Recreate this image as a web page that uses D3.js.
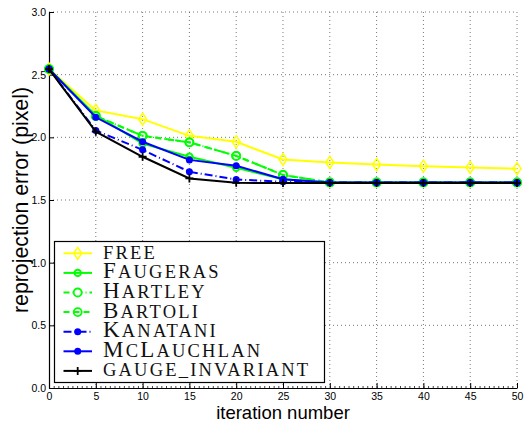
<!DOCTYPE html>
<head>
    <meta charset="utf-8">
    <style>
        body { margin: 0; background: #fff; }
        .tick text { font-family: "Liberation Sans", Arial, sans-serif; font-size: 10.5px; fill: #000; }
        .grid line { stroke: #555; stroke-dasharray: 1,3; stroke-width: 0.8; }
        .legend text { font-family: "Liberation Serif", "Times New Roman", serif; letter-spacing: 2.2px; fill: #111; }
    </style>
    <script src="https://cdn.jsdelivr.net/npm/d3@7"></script>
</head>
<body>
<svg width="531" height="423"></svg>
<script>

var iterations = [0, 5, 10, 15, 20, 25, 30, 35, 40, 45, 50];
var xTicks = [0, 5, 10, 15, 20, 25, 30, 35, 40, 45, 50];
var yTicks = [0, 0.5, 1, 1.5, 2, 2.5, 3];

var freeErr      = [2.545, 2.215, 2.145, 2.012, 1.964, 1.823, 1.800, 1.783, 1.770, 1.760, 1.750];
var faugerasErr  = [2.545, 2.177, 1.950, 1.845, 1.757, 1.666, 1.640, 1.640, 1.640, 1.640, 1.640];
var hartleyErr   = [2.545, 2.170, 2.012, 1.960, 1.852, 1.700, 1.640, 1.640, 1.640, 1.640, 1.640];
var bartoliErr   = [2.545, 2.170, 2.012, 1.960, 1.852, 1.700, 1.640, 1.640, 1.640, 1.640, 1.640];
var kanataniErr  = [2.545, 2.055, 1.900, 1.725, 1.664, 1.645, 1.640, 1.640, 1.640, 1.640, 1.640];
var mclauchErr   = [2.545, 2.160, 1.965, 1.820, 1.773, 1.666, 1.640, 1.640, 1.640, 1.640, 1.640];
var gaugeErr     = [2.545, 2.045, 1.845, 1.672, 1.637, 1.635, 1.635, 1.635, 1.635, 1.635, 1.635];

// legend names in small caps: [text, big?] pieces
var seriesNames = [
  [["FREE", 0]],
  [["F", 1], ["AUGERAS", 0]],
  [["H", 1], ["ARTLEY", 0]],
  [["B", 1], ["ARTOLI", 0]],
  [["K", 1], ["ANATANI", 0]],
  [["M", 1], ["C", 0], ["L", 1], ["AUCHLAN", 0]],
  [["GAUGE_INVARIANT", 0]]
];

var series = [
  { name: seriesNames[0], values: freeErr,     color: "#ffff00", dash: null,       marker: "diamond" },
  { name: seriesNames[1], values: faugerasErr, color: "#00ff00", dash: null,       marker: "circle" },
  { name: seriesNames[2], values: hartleyErr,  color: "#00ff00", dash: "6,3,1,3",  marker: "ring" },
  { name: seriesNames[3], values: bartoliErr,  color: "#00ff00", dash: "6,4",      marker: "dotring" },
  { name: seriesNames[4], values: kanataniErr, color: "#0000ff", dash: "8,3,1,3",  marker: "dot" },
  { name: seriesNames[5], values: mclauchErr,  color: "#0000ff", dash: null,       marker: "dot" },
  { name: seriesNames[6], values: gaugeErr,    color: "#000000", dash: null,       marker: "plus" }
];

var svg = d3.select("svg"),
    margin = {left: 49, right: 14, top: 12, bottom: 35},
    width = +svg.attr("width") - margin.left - margin.right,
    height = +svg.attr("height") - margin.top - margin.bottom;

var x = d3.scaleLinear().domain([0, 50]).range([0, width]);
var y = d3.scaleLinear().domain([0, 3]).range([height, 0]);

var g = svg.append("g").attr("transform", "translate(" + margin.left + "," + margin.top + ")");

// dotted grid
g.append("g").attr("class", "grid")
  .selectAll("line").data(xTicks.slice(1)).enter().append("line")
    .attr("x1", function(d) { return x(d); }).attr("x2", function(d) { return x(d); })
    .attr("y1", 0).attr("y2", height);
g.append("g").attr("class", "grid")
  .selectAll("line").data(yTicks.slice(1)).enter().append("line")
    .attr("y1", function(d) { return y(d); }).attr("y2", function(d) { return y(d); })
    .attr("x1", 0).attr("x2", width);

// minor ticks
g.append("g").call(d3.axisBottom(x).ticks(100).tickSize(-2).tickFormat(""))
  .attr("transform", "translate(0," + height + ")")
  .call(function(s) { s.select(".domain").remove(); s.selectAll("line").attr("stroke", "#444"); });

var xAxis = g.append("g")
  .attr("transform", "translate(0," + height + ")")
  .call(d3.axisBottom(x).tickValues(xTicks).tickSize(-5).tickSizeOuter(0).tickPadding(4.5));
var yAxis = g.append("g")
  .call(d3.axisLeft(y).tickValues(yTicks).tickSize(-5).tickSizeOuter(0).tickPadding(3));
[xAxis, yAxis].forEach(function(a) {
  a.select(".domain").attr("stroke", "#000").attr("stroke-width", 1.2);
  a.selectAll(".tick line").attr("stroke", "#000");
});

svg.append("text")
  .attr("x", margin.left + width / 2).attr("y", 419.3)
  .attr("text-anchor", "middle")
  .style("font-family", "Liberation Sans, Arial, sans-serif").style("font-size", "18.5px")
  .text("iteration number");
svg.append("text")
  .attr("transform", "translate(28," + (margin.top + height / 2) + ") rotate(-90)")
  .attr("text-anchor", "middle")
  .style("font-family", "Liberation Sans, Arial, sans-serif").style("font-size", "21.3px")
  .text("reprojection error (pixel)");

var line = d3.line()
  .x(function(d, i) { return x(iterations[i]); })
  .y(function(d) { return y(d); });

function drawMarker(sel, s, px, py) {
  if (s.marker === "diamond") {
    sel.append("path").attr("d", "M" + px + "," + (py - 6) + "L" + (px + 4) + "," + py + "L" + px + "," + (py + 6) + "L" + (px - 4) + "," + py + "Z")
      .attr("fill", "none").attr("stroke", s.color).attr("stroke-width", 1.5);
  } else if (s.marker === "circle") {
    sel.append("circle").attr("cx", px).attr("cy", py).attr("r", 3.2)
      .attr("fill", "none").attr("stroke", s.color).attr("stroke-width", 2);
  } else if (s.marker === "ring") {
    sel.append("circle").attr("cx", px).attr("cy", py).attr("r", 4)
      .attr("fill", "#fff").attr("stroke", s.color).attr("stroke-width", 1.8);
  } else if (s.marker === "dotring") {
    sel.append("circle").attr("cx", px).attr("cy", py).attr("r", 4)
      .attr("fill", "none").attr("stroke", s.color).attr("stroke-width", 1.8);
    sel.append("circle").attr("cx", px).attr("cy", py).attr("r", 1.2).attr("fill", s.color);
  } else if (s.marker === "dot") {
    sel.append("circle").attr("cx", px).attr("cy", py).attr("r", 3.5).attr("fill", s.color);
  } else if (s.marker === "plus") {
    sel.append("path").attr("d", "M" + (px - 4) + "," + py + "H" + (px + 4) + "M" + px + "," + (py - 4) + "V" + (py + 4))
      .attr("stroke", s.color).attr("stroke-width", 1.8);
  }
}

series.forEach(function(s) {
  var sg = g.append("g");
  sg.append("path").datum(s.values)
    .attr("d", line)
    .attr("fill", "none")
    .attr("stroke", s.color)
    .attr("stroke-width", 2)
    .attr("stroke-dasharray", s.dash);
  s.values.forEach(function(v, i) { drawMarker(sg, s, x(iterations[i]), y(v)); });
});

// legend
var lg = svg.append("g").attr("class", "legend");
lg.append("rect").attr("x", 54.5).attr("y", 241.5).attr("width", 270).attr("height", 141)
  .attr("fill", "#fff").attr("stroke", "#000").attr("stroke-width", 1.2);
series.forEach(function(s, i) {
  var base = 258.8 + i * 19.6;
  var yy = base - 5.5;
  lg.append("line").attr("x1", 63.5).attr("x2", 92).attr("y1", yy).attr("y2", yy)
    .attr("stroke", s.color).attr("stroke-width", 2).attr("stroke-dasharray", s.dash);
  drawMarker(lg, s, 77.7, yy);
  var t = lg.append("text").attr("x", 103).attr("y", base);
  s.name.forEach(function(p) {
    t.append("tspan").style("font-size", p[1] ? "23px" : "18.5px").text(p[0]);
  });
});

</script>
</body>
